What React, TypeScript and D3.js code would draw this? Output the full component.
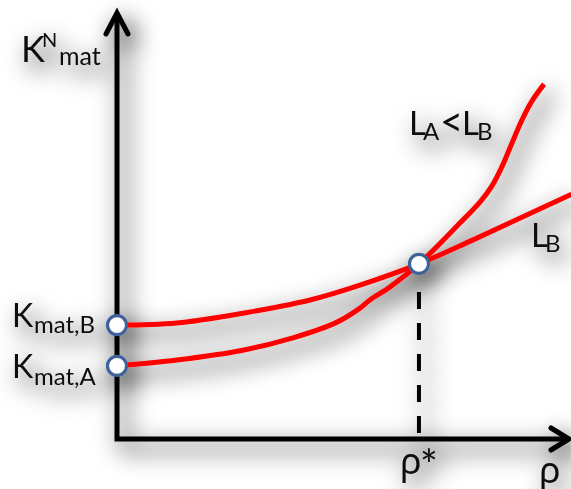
import React from "react";
import * as d3 from "d3";

// Curve for L_B: matrix stiffness vs density (data units)
const curveB: [number, number][] = [
  [0, 2.68], [1.33, 2.73], [2.8, 2.96], [4.29, 3.27], [5.4, 3.62],
  [6.71, 4.12], [7.9, 4.68], [10.1, 5.76],
];

// Curve for L_A < L_B
const curveA: [number, number][] = [
  [0, 1.72], [1.33, 1.86], [2.8, 2.09], [3.91, 2.38], [4.89, 2.75],
  [5.4, 3.08], [5.62, 3.27], [6.07, 3.58], [6.71, 4.12], [7.62, 5.08],
  [8.07, 5.58], [8.33, 5.95], [8.56, 6.42], [8.78, 6.97], [9.0, 7.51],
  [9.22, 7.95], [9.49, 8.35],
];

const kMatB = 2.68;
const kMatA = 1.72;
const rhoStar = 6.71;
const kStar = 4.12;

const W = 571;
const H = 489;

const x = d3.scaleLinear().domain([0, 10]).range([117, 567]);
const y = d3.scaleLinear().domain([0, 10]).range([439, 14]);

const line = d3
  .line<[number, number]>()
  .x((d) => x(d[0]))
  .y((d) => y(d[1]))
  .curve(d3.curveCatmullRom.alpha(0.5));

const RED = "#ff0000";
const RING = "#41629a";
const LATIN = "Lato, 'Open Sans', sans-serif";
const GREEK = "'Noto Sans', 'DejaVu Sans', sans-serif";

export default function App() {
  const x0 = x(0);
  const yTop = y(10);
  const yBase = y(0);
  const xEnd = x(10);
  return (
    <svg
      width={W}
      height={H}
      style={{ position: "fixed", left: 0, top: 0, background: "#fff" }}
    >
      <defs>
        <filter
          id="haze"
          filterUnits="userSpaceOnUse"
          x={-60}
          y={-60}
          width={W + 120}
          height={H + 120}
        >
          <feGaussianBlur in="SourceAlpha" stdDeviation={12} />
          <feOffset dx={7} dy={9} result="blur" />
          <feFlood floodColor="#000" floodOpacity={1} />
          <feComposite in2="blur" operator="in" />
          <feMerge>
            <feMergeNode />
            <feMergeNode in="SourceGraphic" />
          </feMerge>
        </filter>
      </defs>

      <g filter="url(#haze)">
        {/* axes */}
        <path
          d={`M${x0},${yTop} L${x0},${yBase} L${xEnd},${yBase}`}
          fill="none"
          stroke="#000"
          strokeWidth={5}
          strokeLinejoin="miter"
        />
        <path
          d={`M${x0 - 11},${yTop + 20} L${x0},${yTop - 1} L${x0 + 11},${yTop + 20}`}
          fill="none"
          stroke="#000"
          strokeWidth={5}
          strokeLinecap="round"
          strokeLinejoin="miter"
        />
        <path
          d={`M${xEnd - 16},${yBase - 11} L${xEnd + 2},${yBase} L${xEnd - 16},${yBase + 11}`}
          fill="none"
          stroke="#000"
          strokeWidth={5}
          strokeLinecap="round"
          strokeLinejoin="miter"
        />

        {/* rho* guide */}
        <line
          x1={x(rhoStar)}
          x2={x(rhoStar)}
          y1={y(kStar) + 28}
          y2={yBase}
          stroke="#000"
          strokeWidth={4}
          strokeDasharray="17,14"
        />

        {/* curves */}
        <path d={line(curveB) ?? ""} fill="none" stroke={RED} strokeWidth={5} />
        <path d={line(curveA) ?? ""} fill="none" stroke={RED} strokeWidth={5} />

        {/* markers */}
        {[
          [0, kMatB],
          [0, kMatA],
          [rhoStar, kStar],
        ].map(([a, b], i) => (
          <circle
            key={i}
            cx={x(a)}
            cy={y(b)}
            r={9.5}
            fill="#fff"
            stroke={RING}
            strokeWidth={3.2}
          />
        ))}

        {/* labels */}
        <g fill="#111" fontFamily={LATIN}>
          <text x={21} y={62} fontSize={36}>K</text>
          <text x={42} y={47} fontSize={20}>N</text>
          <text x={59} y={65} fontSize={25}>mat</text>

          <text x={12} y={327} fontSize={32}>K</text>
          <text x={34} y={333} fontSize={24}>mat,B</text>

          <text x={12} y={378} fontSize={32}>K</text>
          <text x={34} y={385} fontSize={24}>mat,A</text>

          <text x={409} y={135} fontSize={33}>L</text>
          <text x={423} y={140} fontSize={24}>A</text>
          <text x={440} y={136} fontSize={40}>&lt;</text>
          <text x={462} y={135} fontSize={33}>L</text>
          <text x={477} y={140} fontSize={24}>B</text>

          <text x={531} y={247} fontSize={33}>L</text>
          <text x={545} y={252} fontSize={24}>B</text>
        </g>
        <g fill="#111" fontFamily={GREEK}>
          <text x={400} y={474} fontSize={36}>ρ</text>
          <text x={420} y={480} fontSize={42} fontFamily={LATIN}>*</text>
          <text x={539} y={483} fontSize={36}>ρ</text>
        </g>
      </g>
    </svg>
  );
}
